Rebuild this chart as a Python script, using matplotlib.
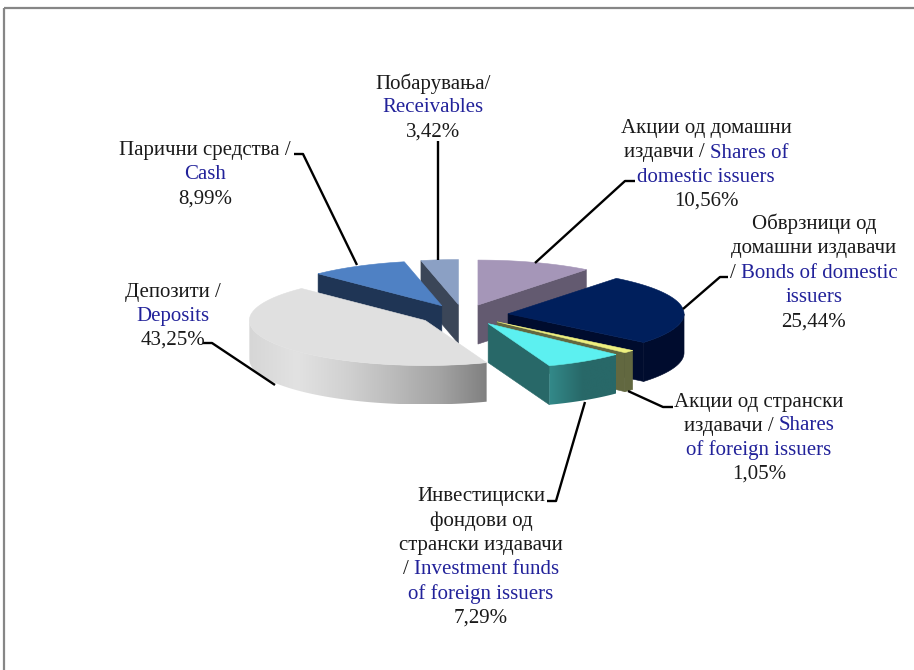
import numpy as np
import matplotlib
matplotlib.use("Agg")
import matplotlib.pyplot as plt
from matplotlib.patches import Polygon, Rectangle
from matplotlib.colors import LinearSegmentedColormap

BLACK = "#1a1a1a"
BLUE = "#22229a"
FONT_SIZE = 15

names = ["shares_dom", "bonds", "shares_for", "funds", "deposits", "cash", "receivables"]
values = [10.56, 25.44, 1.05, 7.29, 43.25, 8.99, 3.42]
top_colors = ["#a596b8", "#001f5c", "#eef080", "#5cf0f0", "#e0e0e0", "#4f81c4", "#8ba0c4"]
side_colors = ["#635a70", "#000c2e", "#626840", "#286868", "#808080", "#1f3555", "#3b4658"]
percent_labels = ["10,56%", "25,44%", "1,05%", "7,29%", "43,25%", "8,99%", "3,42%"]

# label text, every line is a list of runs
label_lines = [
    [[("Акции од домашни", BLACK)], [("издавчи / ", BLACK), ("Shares of", BLUE)], [("domestic issuers", BLUE)]],
    [[("Обврзници од", BLACK)], [("домашни издавачи", BLACK)], [("/ ", BLACK), ("Bonds of domestic", BLUE)], [("issuers", BLUE)]],
    [[("Акции од странски", BLACK)], [("издавачи / ", BLACK), ("Shares", BLUE)], [("of foreign issuers", BLUE)]],
    [[("Инвестициски", BLACK)], [("фондови од", BLACK)], [("странски издавачи", BLACK)], [("/ ", BLACK), ("Investment funds", BLUE)], [("of foreign issuers", BLUE)]],
    [[("Депозити /", BLACK)], [("Deposits", BLUE)]],
    [[("Парични средства /", BLACK)], [("Cash", BLUE)]],
    [[("Побарувања/", BLACK)], [("Receivables", BLUE)]],
]
label_cx = [706, 814, 759, 481, 173, 205, 433]
label_top = [129, 224, 402, 497, 292, 150, 84]
label_step = [24, 24.5, 24, 24.2, 24, 24.5, 24]

leaders = [
    [(635, 181), (625, 181), (535, 263)],
    [(728, 277), (720, 277), (683, 309)],
    [(673, 407), (663, 407), (628, 391)],
    [(547, 501), (556, 501), (585, 402)],
    [(203, 343), (212, 343), (275, 385)],
    [(294, 154), (303, 154), (357, 265)],
    [(438, 141), (438, 260)],
]

# pie geometry in pixels
CX, CY = 463.3, 314.9
RX, RY = 176, 45
EXPLODE_X, EXPLODE_Y = 45, 10.4
DEPTH = 39


def arc(ax0, ay0, t0, t1, n=80):
    t = np.radians(np.linspace(t0, t1, n))
    return np.column_stack([ax0 + RX * np.sin(t), ay0 - RY * np.cos(t)])


def gradient(ax, pts, stops, z):
    # horizontal shading clipped to the polygon
    x0, x1 = pts[:, 0].min(), pts[:, 0].max()
    y0, y1 = pts[:, 1].min(), pts[:, 1].max()
    cmap = LinearSegmentedColormap.from_list("side", stops)
    img = ax.imshow(np.linspace(0, 1, 256)[None, :], cmap=cmap, extent=(x0, x1, y1, y0),
                    aspect="auto", zorder=z, interpolation="bilinear")
    clip = Polygon(pts, closed=True, transform=ax.transData, fc="none", ec="none")
    ax.add_patch(clip)
    img.set_clip_path(clip)


def write_label(fig, ax, cx, top, step, lines):
    renderer = fig.canvas.get_renderer()
    for i, runs in enumerate(lines):
        y = top + i * step
        items = [ax.text(0, y, s, color=c, ha="left", va="center", zorder=50,
                         family="Liberation Serif", fontsize=FONT_SIZE) for s, c in runs]
        widths = [it.get_window_extent(renderer).width for it in items]
        x = cx - sum(widths) / 2
        for it, w in zip(items, widths):
            it.set_x(x)
            x += w


fig = plt.figure(figsize=(9.14, 6.70), dpi=100)
ax = fig.add_axes([0, 0, 1, 1])

ax.add_patch(Rectangle((4, 8), 1000, 800, fc="none", ec="#868686", lw=1.6, zorder=1))

edges = np.concatenate([[0], np.cumsum(values)]) * 360 / sum(values)
order = ["receivables", "cash", "shares_dom", "bonds", "deposits", "shares_for", "funds"]
z = 5
for name in order:
    i = names.index(name)
    t0, t1 = edges[i], edges[i + 1]
    mid = np.radians((t0 + t1) / 2)
    ax0 = CX + EXPLODE_X * np.sin(mid)
    ay0 = CY - EXPLODE_Y * np.cos(mid)

    # cut face between the centre and the visible radial edge
    edge = None
    if t1 <= 180:
        edge = t1
    elif t0 >= 180:
        edge = t0
    if edge is not None:
        p = arc(ax0, ay0, edge, edge, 1)[0]
        face = np.array([[ax0, ay0], p, p + [0, DEPTH], [ax0, ay0 + DEPTH]])
        ax.add_patch(Polygon(face, fc=side_colors[i], ec=side_colors[i], lw=0.4, zorder=z))
        z += 1

    # outer wall, only the front half can be seen
    a0, a1 = max(t0, 90), min(t1, 270)
    if a1 > a0:
        upper = arc(ax0, ay0, a0, a1)
        wall = np.vstack([upper, upper[::-1] + [0, DEPTH]])
        if name == "deposits":
            gradient(ax, wall, ["#d6d6d6", "#e2e2e2", "#d2d2d2", "#bcbcbc", "#a4a4a4", "#808080"], z)
        elif name == "funds":
            gradient(ax, wall, ["#338a8a", "#286868", "#286868"], z)
        else:
            ax.add_patch(Polygon(wall, fc=side_colors[i], ec=side_colors[i], lw=0.4, zorder=z))
        z += 1

    top = np.vstack([[ax0, ay0], arc(ax0, ay0, t0, t1)])
    ax.add_patch(Polygon(top, fc=top_colors[i], ec=top_colors[i], lw=0.4, zorder=z))
    z += 1

for pts in leaders:
    xs, ys = zip(*pts)
    ax.plot(xs, ys, color="black", lw=1.7, zorder=40, solid_capstyle="butt", solid_joinstyle="round")

fig.canvas.draw()
for i in range(len(names)):
    lines = label_lines[i] + [[(percent_labels[i], BLACK)]]
    write_label(fig, ax, label_cx[i], label_top[i], label_step[i], lines)

ax.set_xlim(0, 914)
ax.set_ylim(670, 0)
ax.axis("off")
fig.savefig("out.png", dpi=100)
